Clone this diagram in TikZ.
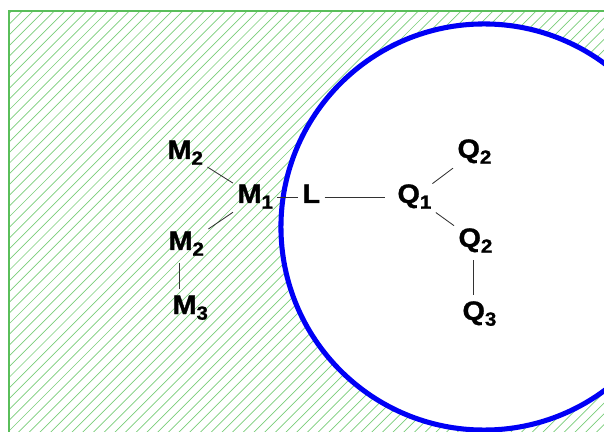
\documentclass[tikz,border=0pt]{standalone}
\usepackage{fontspec}
\setmainfont{Liberation Sans}
\newfontfamily\lblfont[FakeStretch=1.08,FakeBold=1.2]{Liberation Sans Bold}
\usetikzlibrary{positioning}
\definecolor{hatchgreen}{RGB}{120,205,120}
\definecolor{edgegreen}{RGB}{90,190,90}
\definecolor{ringblue}{RGB}{0,0,245}
\definecolor{bondgray}{RGB}{50,50,50}
\newcommand{\lsub}[1]{\raisebox{-0.4ex}{\fontsize{13.5}{14}\selectfont #1}}
\tikzset{
  atom/.style={anchor=base west, inner sep=3pt,
    font=\lblfont\fontsize{19}{21}\selectfont, execute at begin node=\strut},
  bond/.style={draw=bondgray, line width=0.6pt},
  hatch/.style={hatchgreen, line width=0.5pt},
  ring/.style={draw=ringblue, line width=3.6pt}
}

\begin{document}
\begin{tikzpicture}[x=0.025cm, y=-0.025cm]
  \useasboundingbox (0,0) rectangle (604,432);
  \clip (0,0) rectangle (604,432);
  % hatched surface
  \begin{scope}
    \clip (9,11) rectangle (620,450);
    \foreach \k in {-45,...,60}
      \draw[hatch] (\k*10.7,440) -- ++(440,-440);
  \end{scope}
  \draw[edgegreen, line width=1pt] (620,11) -- (9,11) -- (9,450);
  % cavity
  \fill[white] (484,227) circle [radius=5.075cm];
  \draw[ring] (484,227) circle [radius=5.075cm];
  % atoms
  \node[atom] (m2a) at (163,159) {M\lsub{2}};
  \node[atom] (m1) at (233,203) {M\lsub{1}};
  \node[atom] (l) at (298,203) {L};
  \node[atom] (m2b) at (164,250) {M\lsub{2}};
  \node[atom] (m3) at (168,314) {M\lsub{3}};
  \node[atom] (q1) at (393,203) {Q\lsub{1}};
  \node[atom] (q2a) at (453,158) {Q\lsub{2}};
  \node[atom] (q2b) at (454,247) {Q\lsub{2}};
  \node[atom] (q3) at (458,320) {Q\lsub{3}};
  % bonds
  \draw[bond] (m2a) -- (m1);
  \draw[bond] (m2b) -- (m1);
  \draw[bond] ([xshift=-5pt]m2b.south) -- ([xshift=-5pt]m2b.south |- m3.north);
  \draw[bond] (m1) -- (l);
  \draw[bond, shorten >=6pt] (l) -- (q1);
  \draw[bond, shorten <=-3pt] (q1) -- (q2a);
  \draw[bond] (q1) -- (q2b);
  \draw[bond] ([xshift=-4pt]q3.north |- q2b.south) -- ([xshift=-4pt]q3.north);
\end{tikzpicture}
\end{document}
